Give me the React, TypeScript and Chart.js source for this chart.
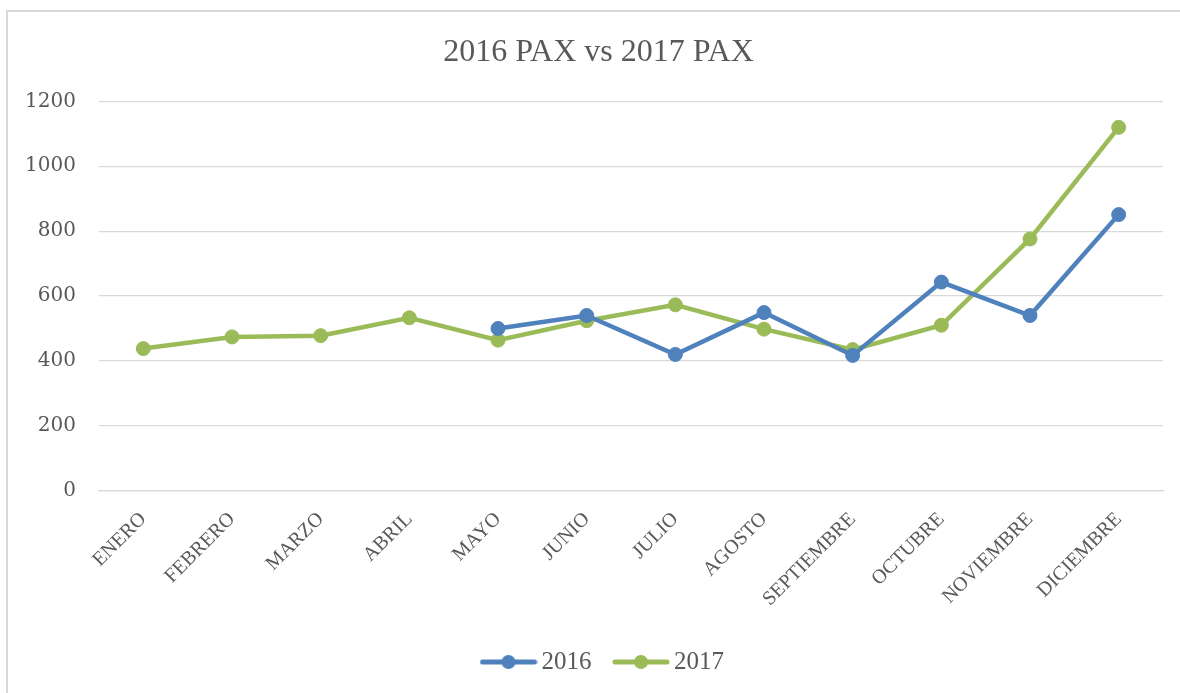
import React, { useEffect, useRef } from "react";
import { Chart, registerables } from "chart.js";

Chart.register(...registerables);

const months = ["ENERO", "FEBRERO", "MARZO", "ABRIL", "MAYO", "JUNIO", "JULIO", "AGOSTO", "SEPTIEMBRE", "OCTUBRE", "NOVIEMBRE", "DICIEMBRE"];
const pax2016: (number | null)[] = [null, null, null, null, 500, 540, 420, 549, 417, 643, 540, 851];
const pax2017: number[] = [438, 474, 478, 533, 464, 524, 573, 498, 435, 510, 776, 1120];
const seriesNames = ["2016", "2017"];
const titleText = "2016 PAX vs 2017 PAX";

const BLUE = "#4F81BD";
const GREEN = "#9BBB59";
const GRID = "#D9D9D9";
const TEXT = "#595959";

function makeMarker(color: string): HTMLCanvasElement {
  const c = document.createElement("canvas");
  c.width = 58;
  c.height = 16;
  const ctx = c.getContext("2d")!;
  ctx.strokeStyle = color;
  ctx.lineWidth = 5;
  ctx.lineCap = "round";
  ctx.beginPath();
  ctx.moveTo(3, 8);
  ctx.lineTo(55, 8);
  ctx.stroke();
  ctx.fillStyle = color;
  ctx.beginPath();
  ctx.arc(29, 8, 7, 0, Math.PI * 2);
  ctx.fill();
  return c;
}

const shiftBoxes = {
  id: "shiftBoxes",
  afterLayout(chart: any) {
    if (chart.legend) chart.legend.left = 49;
    if (chart.titleBlock) chart.titleBlock.left = 34;
  },
};

export default function App() {
  const ref = useRef<HTMLCanvasElement>(null);
  useEffect(() => {
    if (!ref.current) return;
    const markers = [makeMarker(BLUE), makeMarker(GREEN)];
    const colors = [BLUE, GREEN];
    const chart = new Chart(ref.current, {
      type: "line",
      data: {
        labels: months,
        datasets: [
          {
            label: seriesNames[0],
            data: pax2016,
            borderColor: BLUE,
            backgroundColor: BLUE,
            borderWidth: 4.5,
            pointRadius: 7,
            pointBorderWidth: 1,
            pointBackgroundColor: BLUE,
            pointBorderColor: BLUE,
            tension: 0,
            spanGaps: false,
          },
          {
            label: seriesNames[1],
            data: pax2017,
            borderColor: GREEN,
            backgroundColor: GREEN,
            borderWidth: 4.5,
            pointRadius: 7,
            pointBorderWidth: 1,
            pointBackgroundColor: GREEN,
            pointBorderColor: GREEN,
            tension: 0,
          },
        ],
      },
      plugins: [shiftBoxes],
      options: {
        animation: false,
        responsive: false,
        layout: { padding: { left: 0, right: 17, top: 0, bottom: 8.5 } },
        plugins: {
          title: {
            display: true,
            text: titleText,
            color: TEXT,
            font: { family: "'Liberation Serif', serif", size: 32, weight: "normal" },
            padding: { top: 33, bottom: 30 },
          },
          legend: {
            display: true,
            position: "bottom",
            labels: {
              color: TEXT,
              font: { family: "'Liberation Serif', serif", size: 25 },
              usePointStyle: true,
              pointStyleWidth: 41,
              padding: 29,
              generateLabels: (ch: any) =>
                ch.data.datasets.map((ds: any, i: number) => ({
                  text: ds.label,
                  fillStyle: colors[i],
                  strokeStyle: colors[i],
                  lineWidth: 0,
                  pointStyle: markers[i],
                  hidden: false,
                  datasetIndex: i,
                  fontColor: TEXT,
                })),
            },
          },
          tooltip: { enabled: false },
        },
        scales: {
          x: {
            offset: true,
            grid: { display: false, drawTicks: false },
            border: { display: true, color: GRID, width: 1.3 },
            ticks: {
              color: TEXT,
              font: { family: "'Liberation Serif', serif", size: 20 },
              minRotation: 45,
              maxRotation: 45,
              padding: 17,
              autoSkip: false,
            },
            afterFit: (s: any) => {
              s.height = 129.8;
            },
          },
          y: {
            min: 0,
            max: 1200,
            grid: { color: GRID, lineWidth: 1.3, drawTicks: false },
            border: { display: false },
            ticks: {
              stepSize: 200,
              color: TEXT,
              font: { family: "'DejaVu Serif', serif", size: 20 },
              padding: 23,
              callback: (v: any) => String(v),
            },
            afterFit: (s: any) => {
              s.width = 99;
            },
          },
        },
      },
    });
    return () => chart.destroy();
  }, []);

  return (
    <div style={{ position: "fixed", left: 0, top: 0, width: 1180, height: 693, overflow: "hidden", background: "#fff" }}>
      <div
        style={{
          position: "absolute",
          left: 6,
          top: 10,
          width: 1220,
          height: 720,
          border: "2px solid #D9D9D9",
          boxSizing: "border-box",
        }}
      />
      <canvas ref={ref} width={1180} height={693} style={{ position: "absolute", left: 0, top: 0 }} />
    </div>
  );
}
